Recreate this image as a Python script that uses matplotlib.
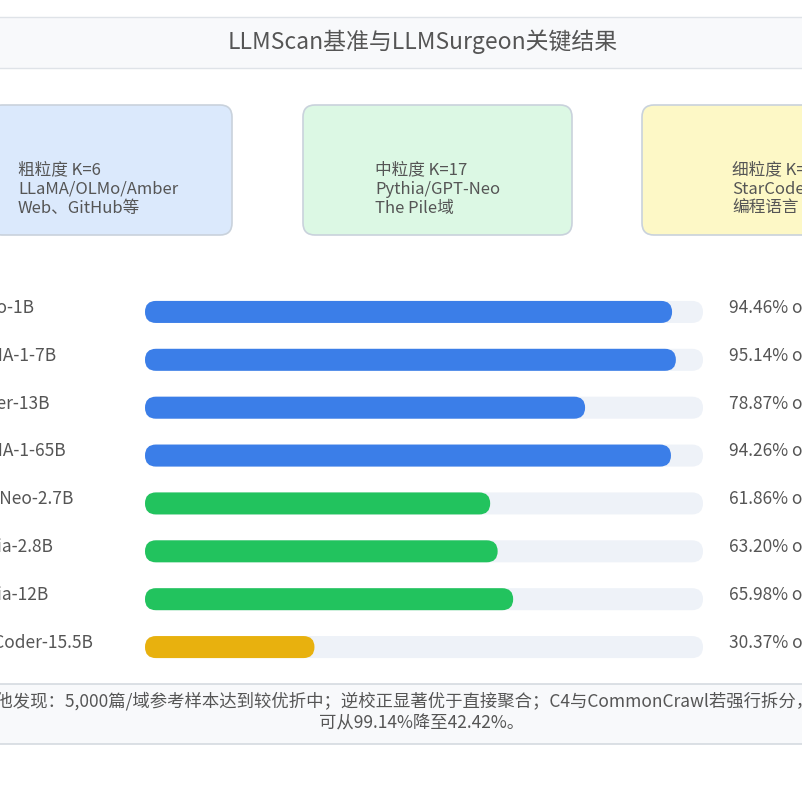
import matplotlib
matplotlib.use("Agg")
import matplotlib.pyplot as plt
from matplotlib.patches import FancyBboxPatch, Rectangle

plt.rcParams['font.family'] = ['Noto Sans CJK SC', 'DejaVu Sans']

models = ["OLMo-1B", "LLaMA-1-7B", "Amber-13B", "LLaMA-1-65B",
          "GPT-Neo-2.7B", "Pythia-2.8B", "Pythia-12B", "StarCoder-15.5B"]
scores = [94.46, 95.14, 78.87, 94.26, 61.86, 63.20, 65.98, 30.37]
groups = ["coarse", "coarse", "coarse", "coarse", "mid", "mid", "mid", "fine"]
group_colors = {"coarse": "#3b7ee8", "mid": "#22c35e", "fine": "#e8b10e"}
box_texts = ["粗粒度 K=6\nLLaMA/OLMo/Amber\nWeb、GitHub等",
             "中粒度 K=17\nPythia/GPT-Neo\nThe Pile域",
             "细粒度 K=58\nStarCoder\n编程语言"]
box_colors = ["#dbe9fc", "#dcf8e4", "#fdf8c6"]
title = "LLMScan基准与LLMSurgeon关键结果"
note = ("其他发现：5,000篇/域参考样本达到较优折中；逆校正显著优于直接聚合；"
        "C4与CommonCrawl若强行拆分，准确率\n可从99.14%降至42.42%。")

W, H = 802, 801
fig = plt.figure(figsize=(W / 100, H / 100), dpi=100)
bg = fig.add_axes([0, 0, 1, 1])
bg.set_xlim(0, W)
bg.set_ylim(H, 0)
bg.axis("off")
txt = "#555555"
fw = "light"

# title band
bg.add_patch(Rectangle((-5, 17), W + 10, 51, facecolor="#f8f9fb", edgecolor="#dfe3e8", lw=1))
bg.text(W / 2 + 22, 42, title, ha="center", va="center", fontsize=16.5, color=txt, fontweight=fw)

# group boxes
box_x = [-10, 303, 642]
box_w = [242, 269, 269]
text_x = [18, 375, 732]
for i, (t, c) in enumerate(zip(box_texts, box_colors)):
    bg.add_patch(FancyBboxPatch((box_x[i], 105), box_w[i], 130,
                                boxstyle="round,pad=0,rounding_size=12",
                                facecolor=c, edgecolor="#c9d2dc", lw=1.2))
    bg.text(text_x[i], 189, t, ha="left", va="center", fontsize=12,
            color=txt, linespacing=1.2, fontweight=fw)

# bars
ax = fig.add_axes([145 / W, 1 - 671 / H, 558 / W, 383 / H])
ax.set_xlim(0, 100)
ax.set_ylim(7.5, -0.5)
ax.axis("off")
h = 0.46
asp = (h / 2) / 1.97
for i, (m, s, g) in enumerate(zip(models, scores, groups)):
    ax.add_patch(FancyBboxPatch((0, i - h / 2), 100, h, boxstyle="round,pad=0,rounding_size=1.97",
                                mutation_aspect=asp, facecolor="#eef2f8", edgecolor="none"))
    ax.add_patch(FancyBboxPatch((0, i - h / 2), s, h, boxstyle="round,pad=0,rounding_size=1.97",
                                mutation_aspect=asp, facecolor=group_colors[g], edgecolor="none"))
    bg.text(-40, 308 + i * 47.8, m, ha="left", va="center", fontsize=12.5, color=txt, fontweight=fw)
    bg.text(729, 308 + i * 47.8, f"{s:.2f}% of", ha="left", va="center", fontsize=12.5,
            color=txt, fontweight=fw)

# note box
bg.add_patch(Rectangle((-5, 684), W + 10, 60, facecolor="#f8f9fb", edgecolor="#d5dae0", lw=1.2))
bg.text(422, 712, note, ha="center", va="center", fontsize=12.5, color=txt, linespacing=1.25,
        fontweight=fw)

fig.savefig("out.png", dpi=100)
